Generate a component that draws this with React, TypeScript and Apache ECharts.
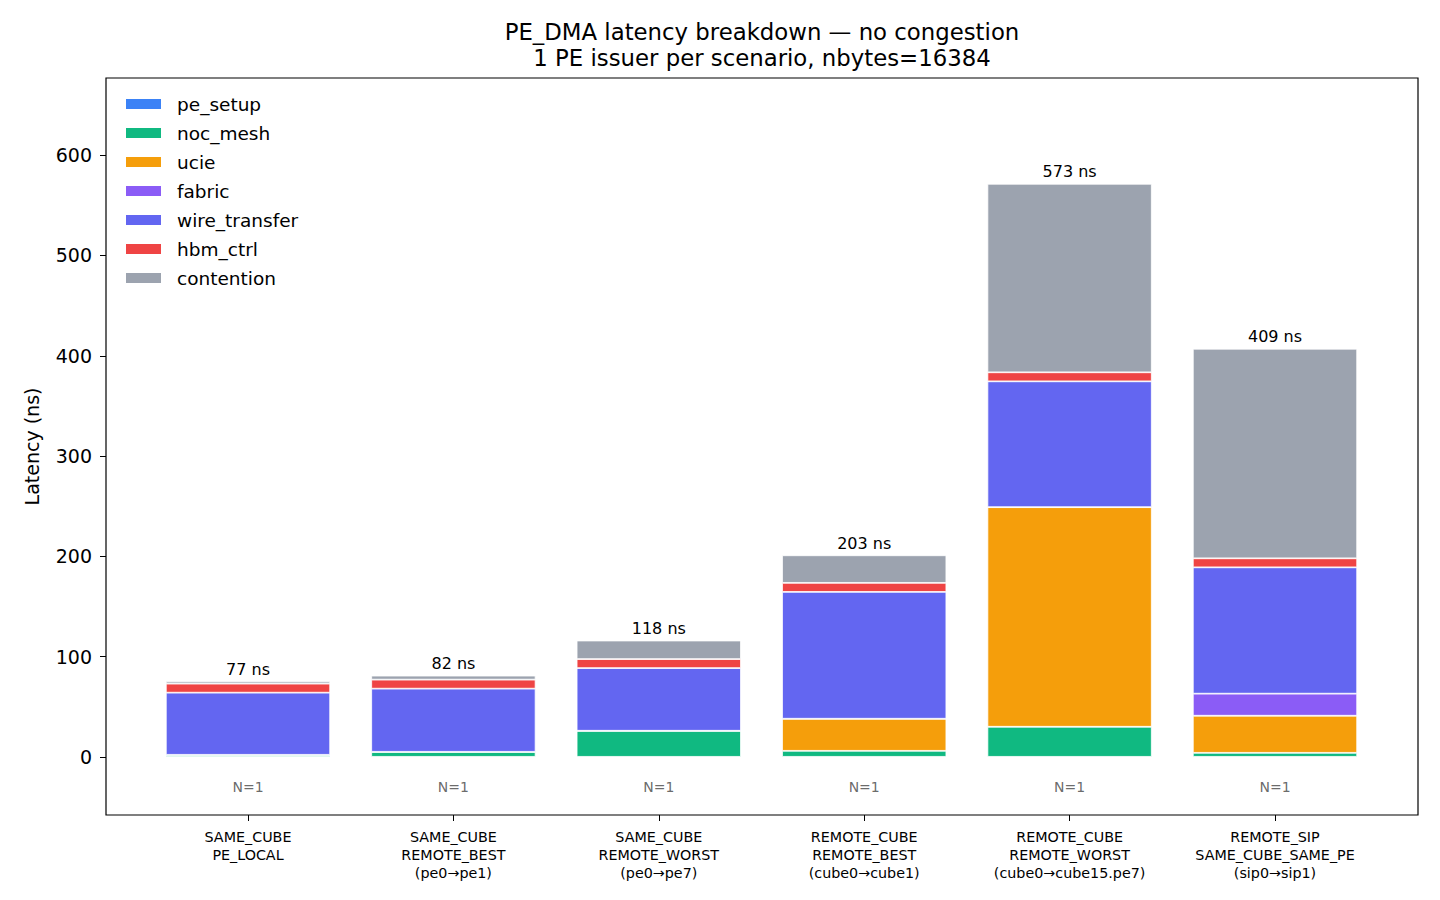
import React, { useEffect, useRef } from "react";
import * as echarts from "echarts";

const categories = [
  "SAME_CUBE\nPE_LOCAL",
  "SAME_CUBE\nREMOTE_BEST\n(pe0→pe1)",
  "SAME_CUBE\nREMOTE_WORST\n(pe0→pe7)",
  "REMOTE_CUBE\nREMOTE_BEST\n(cube0→cube1)",
  "REMOTE_CUBE\nREMOTE_WORST\n(cube0→cube15.pe7)",
  "REMOTE_SIP\nSAME_CUBE_SAME_PE\n(sip0→sip1)",
];

const peSetup = [0, 0, 0, 0, 0, 0];
const nocMesh = [2, 5, 26, 6, 30, 4];
const ucie = [0, 0, 0, 32, 219, 37];
const fabric = [0, 0, 0, 0, 0, 22];
const wireTransfer = [62, 63, 62.5, 126.5, 125.5, 126];
const hbmCtrl = [9, 9, 9, 9, 9, 9];
const contention = [2.2, 4, 18.5, 27.5, 188, 209];

const totals = [77, 82, 118, 203, 573, 409];
const sampleCounts = [1, 1, 1, 1, 1, 1];
const yTicks = [0, 100, 200, 300, 400, 500, 600];

const seriesDefs = [
  { name: "pe_setup", data: peSetup, color: "#3b82f6" },
  { name: "noc_mesh", data: nocMesh, color: "#10b981" },
  { name: "ucie", data: ucie, color: "#f59e0b" },
  { name: "fabric", data: fabric, color: "#8b5cf6" },
  { name: "wire_transfer", data: wireTransfer, color: "#6366f1" },
  { name: "hbm_ctrl", data: hbmCtrl, color: "#ef4444" },
  { name: "contention", data: contention, color: "#9ca3af" },
];

const FONT = "DejaVu Sans";

export default function App() {
  const ref = useRef<HTMLDivElement>(null);

  useEffect(() => {
    document.body.style.margin = "0";
    if (!ref.current) return;
    const chart = echarts.init(ref.current, undefined, { renderer: "svg" });

    const barSeries = seriesDefs.map((s, idx) => ({
      name: s.name,
      type: "bar",
      stack: "total",
      data: s.data,
      barWidth: "80%",
      itemStyle: { color: s.color, borderColor: "#ffffff", borderWidth: 0.8 },
      label:
        idx === seriesDefs.length - 1
          ? {
              show: true,
              position: "top",
              distance: 4,
              fontFamily: FONT,
              fontSize: 16,
              color: "#000",
              formatter: (p: any) => `${totals[p.dataIndex]} ns`,
            }
          : { show: false },
      emphasis: { disabled: true },
    }));

    const nSeries = {
      name: "N",
      type: "scatter",
      data: sampleCounts.map((_, i) => [i, -30]),
      symbolSize: 1,
      itemStyle: { color: "rgba(0,0,0,0)" },
      label: {
        show: true,
        position: "inside",
        fontFamily: FONT,
        fontSize: 14,
        color: "#444",
        formatter: (p: any) => `N=${sampleCounts[p.dataIndex]}`,
      },
      silent: true,
    };

    chart.setOption({
      animation: false,
      backgroundColor: "#ffffff",
      title: {
        text: "PE_DMA latency breakdown — no congestion\n1 PE issuer per scenario, nbytes=16384",
        left: 757,
        textAlign: "center",
        top: 14,
        textStyle: {
          fontFamily: FONT,
          fontSize: 22.8,
          fontWeight: "normal",
          color: "#000",
          lineHeight: 26,
        },
      },
      legend: {
        data: seriesDefs.map((s) => s.name),
        orient: "vertical",
        left: 119,
        top: 89,
        itemWidth: 37,
        itemHeight: 12,
        itemGap: 9,
        icon: "rect",
        textStyle: {
          fontFamily: FONT,
          fontSize: 18.5,
          color: "#000",
          lineHeight: 20,
          padding: [0, 0, 0, 10],
        },
        selectedMode: false,
      },
      grid: { left: 145.3, right: 62.3, top: 78, bottom: 85, containLabel: false },
      xAxis: {
        type: "category",
        data: categories,
        axisLine: { show: false, onZero: false },
        axisTick: { show: true, alignWithLabel: true, length: 6, lineStyle: { color: "#000", width: 1 } },
        axisLabel: {
          fontFamily: FONT,
          fontSize: 14.3,
          lineHeight: 18,
          color: "#000",
          margin: 13,
          interval: 0,
        },
        splitLine: { show: false },
      },
      yAxis: {
        type: "value",
        min: -58,
        max: 677,
        offset: 39.3,
        name: "Latency (ns)",
        nameLocation: "middle",
        nameGap: 65,
        nameTextStyle: { fontFamily: FONT, fontSize: 19, color: "#000" },
        axisLine: { show: false },
        axisTick: { show: true, length: 6, customValues: yTicks, lineStyle: { color: "#000", width: 1 } },
        axisLabel: {
          fontFamily: FONT,
          fontSize: 19,
          color: "#000",
          margin: 14,
          customValues: yTicks,
        },
        splitLine: { show: false },
      },
      graphic: [
        {
          type: "rect",
          shape: { x: 106, y: 78, width: 1312, height: 737 },
          style: { fill: "none", stroke: "#000", lineWidth: 1.2 },
          silent: true,
          z: 100,
        },
      ],
      series: [...barSeries, nSeries],
    });

    return () => chart.dispose();
  }, []);

  return <div ref={ref} style={{ width: 1440, height: 900 }} />;
}
